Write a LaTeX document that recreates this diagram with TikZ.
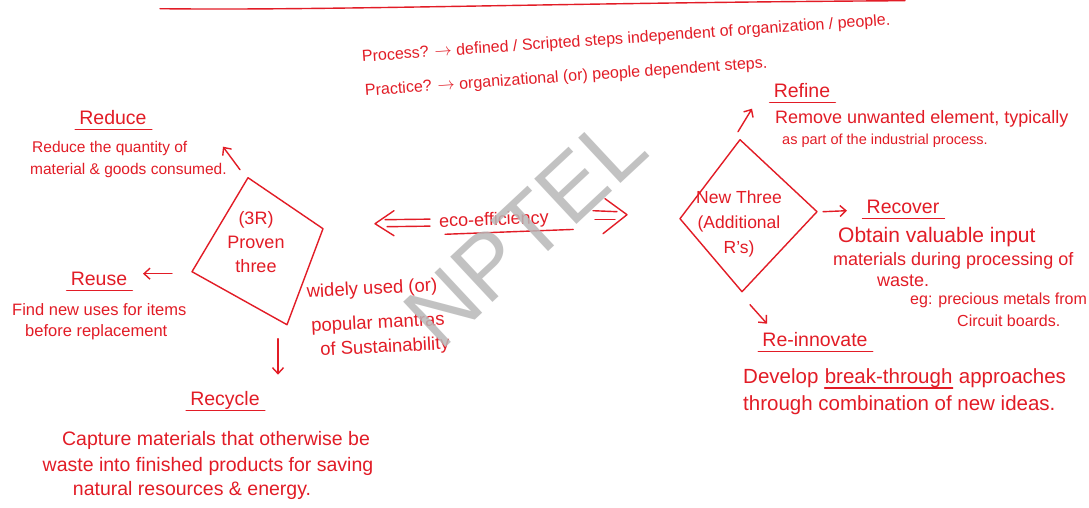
\documentclass[tikz,border=0pt]{standalone}
\usepackage{fontspec}
\setmainfont{Liberation Sans}
\usetikzlibrary{arrows.meta}
\definecolor{ink}{RGB}{226,28,38}

\begin{document}
\begin{tikzpicture}[x=1pt,y=-1pt,
  pen/.style={draw=ink, line width=1.4pt, line cap=round, line join=round},
  arr/.style={pen, -{Straight Barb[length=6pt,width=11pt]}},
  note/.style={text=ink, inner sep=0pt, font=\fontsize{#1}{#1}\selectfont},
  note/.default=17,
  head/.style={note=19.5}]

\fill[white] (0,0) rectangle (1089,506);

% -------------------------------------------------
% Top of the page
% -------------------------------------------------
\draw[pen] (160,7) .. controls (330,9) and (560,1) .. (905,-1);
\node[note=16, rotate=4, anchor=west] (proc) at (362,56)
  {Process? $\rightarrow$ defined / Scripted steps independent of organization / people.};
\node[note=16, rotate=4, anchor=west] (prac) at (365,90)
  {Practice? $\rightarrow$ organizational (or) people dependent steps.};

% -------------------------------------------------
% Proven three (3R)
% -------------------------------------------------
\draw[pen] (248,176) -- (323,227) -- (287,323) -- (192,270) -- cycle;
\node[note, align=center, font=\fontsize{18}{24}\selectfont] (old) at (256,240)
  {(3R)\\Proven\\three};

\coordinate (rdcFrom) at (240,168);  \coordinate (rdcTo) at (223,145);
\coordinate (ruseFrom) at (172,272); \coordinate (ruseTo) at (143,272);
\coordinate (rcyFrom) at (278,337);  \coordinate (rcyTo) at (278,373);
\draw[arr] (rdcFrom) -- (rdcTo);
\draw[arr] (ruseFrom) -- (ruseTo);
\draw[arr] (rcyFrom) -- (rcyTo);

% Reduce
\node[head] (rdc) at (113,116) {Reduce};
\node[note=15.5, anchor=west] (rdc1) at (32,147) {Reduce the quantity of};
\node[note=15.5, anchor=west] (rdc2) at (30,169) {material \& goods consumed.};

% Reuse
\node[head] (ruse) at (99,277) {Reuse};
\node[note=16.5, anchor=west] (ruse1) at (12,308) {Find new uses for items};
\node[note=16.5, anchor=west] (ruse2) at (25,331) {before replacement};

% Recycle
\node[head] (rcy) at (225,399) {Recycle};
\node[note=19.5] (rcy1) at (216,439) {Capture materials that otherwise be};
\node[note=19.5] (rcy2) at (208,465) {waste into finished products for saving};
\node[note=19.5] (rcy3) at (192,489) {natural resources \& energy.};

% mantras
\node[note=18.5, rotate=3] (mtr1) at (372,288) {widely used (or)};
\node[note=18.5, rotate=3] (mtr2) at (378,322) {popular mantras};
\node[note=18.5, rotate=3] (mtr3) at (385,346) {of Sustainability};

% -------------------------------------------------
% eco-efficiency
% -------------------------------------------------
\node[note=18, rotate=2] (eco) at (494,219) {eco-efficiency};
\coordinate (effL) at (375,222);
\coordinate (effR) at (627,213);
% <== left
\draw[pen] ([xshift=-9pt,yshift=3.5pt]eco.west) -- ([xshift=10pt,yshift=4pt]effL);
\draw[pen] ([xshift=-9pt,yshift=-3.5pt]eco.west) -- ([xshift=12pt,yshift=-3pt]effL);
\draw[pen] ([xshift=19pt,yshift=13pt]effL) -- (effL) -- ([xshift=19pt,yshift=-12pt]effL);
% ==> right
\draw[pen] ([xshift=-34pt,yshift=4pt]effR) -- ([xshift=-10pt,yshift=3pt]effR);
\draw[pen] ([xshift=-32pt,yshift=-5pt]effR) -- ([xshift=-12pt,yshift=-5pt]effR);
\draw[pen] ([xshift=-22pt,yshift=16pt]effR) -- (effR) -- ([xshift=-24pt,yshift=-19pt]effR);
\draw[pen] ([xshift=6pt,yshift=-7pt]eco.base west) -- ([xshift=24pt,yshift=-6pt]eco.base east);

% -------------------------------------------------
% New three (additional R's)
% -------------------------------------------------
\draw[pen] (740,138) -- (817,210) -- (742,290) -- (680,217) -- cycle;
\node[note, align=center, font=\fontsize{17.5}{25}\selectfont] (new) at (739,222)
  {New Three\\(Additional\\R's)};

\coordinate (rfnFrom) at (738,130);  \coordinate (rfnTo) at (752,107);
\coordinate (rcvFrom) at (823,210);  \coordinate (rcvTo) at (847,209);
\coordinate (rinnFrom) at (750,303); \coordinate (rinnTo) at (767,322);
\draw[arr] (rfnFrom) -- (rfnTo);
\draw[arr] (rcvFrom) -- (rcvTo);
\draw[arr] (rinnFrom) -- (rinnTo);

% Refine
\node[head] (rfn) at (802,89) {Refine};
\node[note=18, anchor=west] (rfn1) at (775,117) {Remove unwanted element, typically};
\node[note=14.5, anchor=west] (rfn2) at (782,139) {as part of the industrial process.};

% Recover
\node[head] (rcv) at (903,205) {Recover};
\node[note=21, anchor=west] (rcv1) at (838,235) {Obtain valuable input};
\node[note=18, anchor=west] (rcv2) at (833,259) {materials during processing of};
\node[note=18, anchor=west] (rcv3) at (877,279) {waste.};
\node[note=16, anchor=west] (rcv4) at (910,299) {eg: precious metals from};
\node[note=16, anchor=west] (rcv5) at (957,319) {Circuit boards.};

% Re-innovate
\node[head] (rinn) at (815,338) {Re-innovate};
\node[note=20.5, anchor=west] (rinn1) at (743,376) {Develop};
\node[note=20.5, anchor=base west] (brk) at ([xshift=6pt]rinn1.base east) {break-through};
\node[note=20.5, anchor=base west] (rinn2) at ([xshift=6pt]brk.base east) {approaches};
\node[note=20.5, anchor=west] (rinn3) at (743,403) {through combination of new ideas.};
\draw[pen] ([yshift=-5pt]brk.base west) -- ([yshift=-5pt]brk.base east);

% -------------------------------------------------
% Underlined headings
% -------------------------------------------------
\foreach \h in {rdc,ruse,rcy,rfn,rcv,rinn}
  \draw[pen] ([xshift=-4pt,yshift=-5pt]\h.base west) -- ([xshift=5pt,yshift=-5pt]\h.base east);

% -------------------------------------------------
% Watermark
% -------------------------------------------------
\node[text=black!28, opacity=0.85, rotate=43, inner sep=0pt,
  font=\fontsize{90}{90}\selectfont] (wm) at (525,229) {NPTEL};

\end{tikzpicture}
\end{document}
